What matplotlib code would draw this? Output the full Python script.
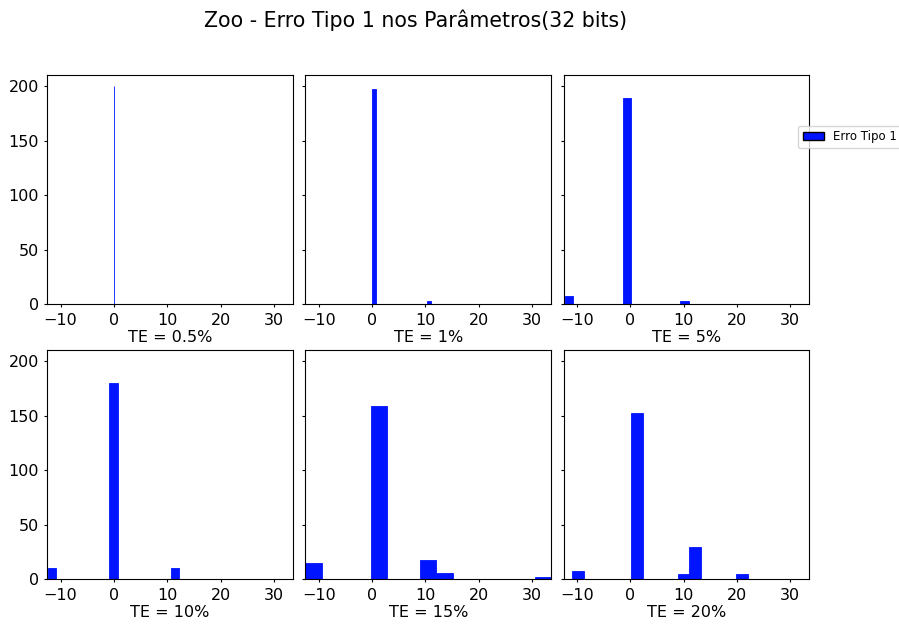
import matplotlib
matplotlib.use('Agg')
import matplotlib.pyplot as plt
from matplotlib.patches import Patch

# Dados: um histograma por taxa de erro (TE)
te_labels = ['TE = 0.5%', 'TE = 1%', 'TE = 5%', 'TE = 10%', 'TE = 15%', 'TE = 20%']
bin_lefts = [[-0.05],
             [0.0, 10.35],
             [-12.3, -1.45, 9.4],
             [-12.45, -0.9, 10.65],
             [-12.5, -0.22, 8.99, 12.06, 30.48],
             [-10.9, 0.1, 8.9, 11.1, 19.9]]
bin_widths = [0.1, 0.69, 1.55, 1.65, 3.07, 2.2]
counts = [[200],
          [197, 3],
          [8, 189, 3],
          [10, 180, 10],
          [15, 159, 18, 6, 2],
          [8, 152, 5, 30, 5]]
cor = '#0014ff'

fig, axes = plt.subplots(2, 3, sharex=True, sharey=True, figsize=(8.99, 6.26), dpi=100)
fig.subplots_adjust(left=0.0526, right=0.9, top=0.88, bottom=0.0746, wspace=0.052, hspace=0.2)

for ax, label, lefts, w, c in zip(axes.flat, te_labels, bin_lefts, bin_widths, counts):
    ax.bar(lefts, c, width=w, align='edge', color=cor, edgecolor=cor, linewidth=0.6)
    ax.set_xlabel(label, fontsize=11.5, labelpad=2)
    ax.xaxis.set_tick_params(labelbottom=True, labelsize=11.5, length=2.5)
    ax.yaxis.set_tick_params(labelsize=11.5, length=2.5)

axes[0, 0].set_xlim(-12.5, 33.55)
axes[0, 0].set_ylim(0, 210)
axes[0, 0].set_yticks([0, 50, 100, 150, 200])
axes[0, 0].set_xticks([-10, 0, 10, 20, 30])

handle = Patch(facecolor=cor, edgecolor='black', label='Erro Tipo 1')
axes[0, 2].legend(handles=[handle], loc='upper left', bbox_to_anchor=(0.955, 0.78),
                  borderaxespad=0, fontsize=8.5, handlelength=1.8, framealpha=0.8)

fig.suptitle('Zoo - Erro Tipo 1 nos Parâmetros(32 bits)', fontsize=14.8, x=0.462, y=0.985)

plt.savefig('out.png', dpi=100)
